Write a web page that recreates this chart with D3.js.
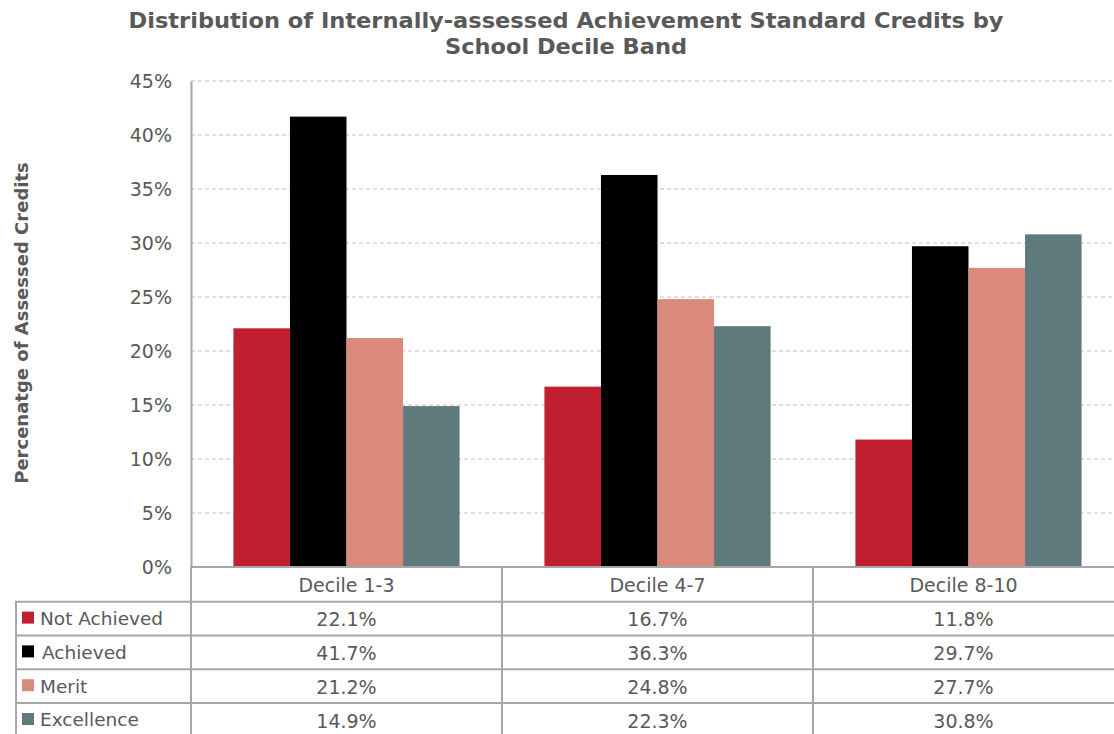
<!DOCTYPE html>
<html><head><meta charset="utf-8">
<script src="https://cdn.jsdelivr.net/npm/d3@7"></script>
<style>
body{margin:0;background:#fff;}
svg{display:block;font-family:"DejaVu Sans",Verdana,sans-serif;}
</style></head>
<body><svg id="c" width="1114" height="734"></svg>
<script>
const categories = ["Decile 1-3", "Decile 4-7", "Decile 8-10"];
const seriesNames = ["Not Achieved", "Achieved", "Merit", "Excellence"];
const notAchieved = [22.1, 16.7, 11.8];
const achieved = [41.7, 36.3, 29.7];
const merit = [21.2, 24.8, 27.7];
const excellence = [14.9, 22.3, 30.8];
const yTicks = [0, 5, 10, 15, 20, 25, 30, 35, 40, 45];
const colors = ["#C01F2F", "#000000", "#D98A7A", "#5E7A7D"];
const seriesValues = [notAchieved, achieved, merit, excellence];

const svg = d3.select("#c");
const L = 191, R = 1124, T = 81, B = 567;
const x = d3.scaleBand().domain(categories).range([L, R]).padding(0);
const inner = d3.scaleBand().domain(seriesNames).range([0, x.bandwidth()]).paddingInner(0).paddingOuter(0.75);
const y = d3.scaleLinear().domain([0, 45]).range([B, T]);
const txt = "#595959", grid = "#BFBFBF", line = "#A6A6A6";

// title
const title = svg.append("g").attr("font-weight", "bold").attr("fill", txt).attr("text-anchor", "middle").attr("font-size", 21);
title.append("text").attr("x", 566).attr("y", 28).attr("textLength", 875).attr("lengthAdjust", "spacingAndGlyphs")
  .text("Distribution of Internally-assessed Achievement Standard Credits by");
title.append("text").attr("x", 566).attr("y", 54).attr("textLength", 242).attr("lengthAdjust", "spacingAndGlyphs")
  .text("School Decile Band");

// grid
svg.append("g").selectAll("line").data(yTicks.filter(d => d > 0)).join("line")
  .attr("x1", L).attr("x2", 1114).attr("y1", d => y(d)).attr("y2", d => y(d))
  .attr("stroke", grid).attr("stroke-dasharray", "4,3").attr("stroke-width", 1);

// y axis
const ya = svg.append("g").attr("transform", `translate(${L},0)`)
  .call(d3.axisLeft(y).tickValues(yTicks).tickFormat(d => d + "%").tickSize(0).tickPadding(19));
ya.select(".domain").attr("stroke", line).attr("stroke-width", 2);
ya.selectAll("text").attr("font-size", 19).attr("fill", txt).attr("font-family", "DejaVu Sans, sans-serif");

// y title
svg.append("text").attr("transform", "translate(28,323) rotate(-90)").attr("text-anchor", "middle")
  .attr("font-size", 18).attr("font-weight", "bold").attr("fill", txt).text("Percenatge of Assessed Credits");

// bars
const g = svg.append("g");
seriesNames.forEach((s, si) => {
  g.append("g").selectAll("rect").data(categories).join("rect")
    .attr("x", c => x(c) + inner(s))
    .attr("width", inner.bandwidth())
    .attr("y", (c, ci) => y(seriesValues[si][ci]))
    .attr("height", (c, ci) => y(0) - y(seriesValues[si][ci]))
    .attr("fill", colors[si]);
});

// table
const rowH = 33.8;
const hdrTop = B, hdrBot = B + 34.7;
const tb = svg.append("g");
tb.append("line").attr("x1", L).attr("x2", 1114).attr("y1", B).attr("y2", B).attr("stroke", line).attr("stroke-width", 2);
for (let i = 0; i <= 4; i++) {
  const yy = hdrBot + i * rowH;
  tb.append("line").attr("x1", 15).attr("x2", 1114).attr("y1", yy).attr("y2", yy).attr("stroke", line).attr("stroke-width", 2);
}
tb.append("line").attr("x1", 16).attr("x2", 16).attr("y1", hdrBot).attr("y2", 734).attr("stroke", line).attr("stroke-width", 2);
categories.forEach(c => {
  tb.append("line").attr("x1", x(c)).attr("x2", x(c)).attr("y1", B).attr("y2", 734).attr("stroke", line).attr("stroke-width", 2);
});
tb.selectAll("text.h").data(categories).join("text").attr("class", "h")
  .attr("x", c => x(c) + x.bandwidth() / 2 - (c === "Decile 8-10" ? 5 : 0))
  .attr("y", hdrTop + 18).attr("dy", "0.35em").attr("text-anchor", "middle")
  .attr("font-size", 19).attr("fill", txt).text(c => c);
seriesNames.forEach((s, si) => {
  const cy = hdrBot + si * rowH + rowH / 2;
  tb.append("rect").attr("x", 22).attr("y", cy - 7).attr("width", 12).attr("height", 12).attr("fill", colors[si]);
  tb.append("text").attr("x", si === 1 ? 42 : 40).attr("y", cy).attr("dy", "0.35em").attr("font-size", 18.5).attr("fill", txt).text(s);
  categories.forEach((c, ci) => {
    tb.append("text").attr("x", x(c) + x.bandwidth() / 2 - (ci === 2 ? 5 : 0)).attr("y", cy + 1).attr("dy", "0.35em")
      .attr("text-anchor", "middle").attr("font-size", 19).attr("fill", txt)
      .text(seriesValues[si][ci].toFixed(1) + "%");
  });
});
</script></body></html>
